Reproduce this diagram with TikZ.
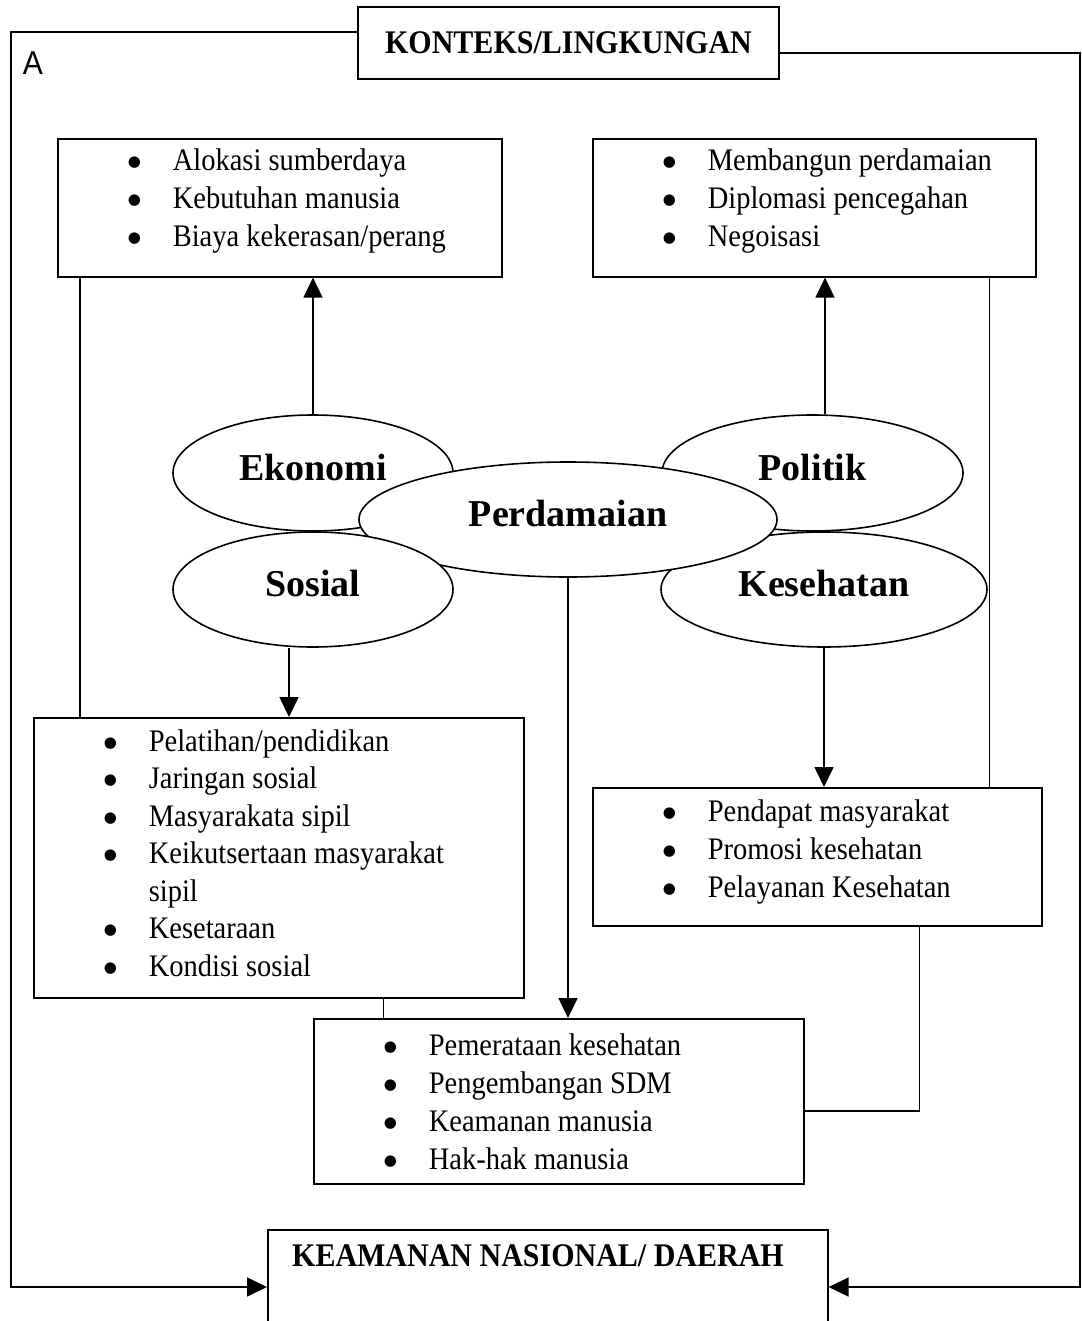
\documentclass[tikz,border=0pt]{standalone}
\usepackage{graphicx}
\usepackage{fontspec}
\setmainfont{Liberation Serif}
\newfontfamily\arialfont{Liberation Sans}
\newfontfamily\dotfont{DejaVu Sans}
\usetikzlibrary{shapes.geometric,arrows.meta}

\newcommand{\tall}[1]{\scalebox{1}[1.1]{#1}}
\newcommand{\bul}[1]{\makebox[45pt][l]{\raisebox{4pt}{\dotfont\fontsize{15}{38}\selectfont ●}}\tall{#1}}

\begin{document}
\begin{tikzpicture}[x=1pt,y=-1pt,line width=1.6pt,
        >={Triangle[length=20pt,width=19pt]},
        itembox/.style={rectangle,draw,anchor=north west,inner sep=0pt},
        items/.style={anchor=west,align=left,inner sep=0pt,font=\fontsize{28.5}{38}\selectfont},
        headbox/.style={rectangle,draw,inner sep=0pt,font=\fontsize{30}{30}\selectfont\bfseries},
        headtext/.style={inner sep=0pt,font=\fontsize{30}{30}\selectfont\bfseries},
        bubble/.style={ellipse,draw,fill=white,inner sep=0pt,text depth=12pt,font=\fontsize{38}{38}\selectfont\bfseries}]
        \useasboundingbox (0,0) rectangle (1081,1321);
        \clip (0,0) rectangle (1081,1321);

        % 标题框
        \node[headbox,minimum width=421pt,minimum height=72pt] (konteks) at (568.5,43) {\tall{KONTEKS/LINGKUNGAN}};
        \node[itembox,minimum width=560pt,minimum height=160pt] (keamanan) at (267,1229) {};
        \node[headtext] (keaTitle) at (538,1256) {\tall{KEAMANAN NASIONAL/ DAERAH}};
        \node[inner sep=0pt,font=\arialfont\fontsize{30}{30}\selectfont] (mark) at (33,63.5) {\tall{A}};

        % 列表框
        \node[itembox,minimum width=444pt,minimum height=138pt] (ekoBox) at (57,138) {};
        \node[itembox,minimum width=443pt,minimum height=138pt] (polBox) at (592,138) {};
        \node[itembox,minimum width=490pt,minimum height=280pt] (sosBox) at (33,717) {};
        \node[itembox,minimum width=449pt,minimum height=138pt] (kesBox) at (592,787) {};
        \node[itembox,minimum width=490pt,minimum height=165pt] (peaceBox) at (313,1018) {};

        % 列表内容
        \node[items] (ekoList) at (127,201) {
            \bul{Alokasi sumberdaya}\\
            \bul{Kebutuhan manusia}\\
            \bul{Biaya kekerasan/perang}
        };
        \node[items] (polList) at (662,201) {
            \bul{Membangun perdamaian}\\
            \bul{Diplomasi pencegahan}\\
            \bul{Negoisasi}
        };
        \node[items,font=\fontsize{28.5}{37.5}\selectfont] (sosList) at (103,853) {
            \bul{Pelatihan/pendidikan}\\
            \bul{Jaringan sosial}\\
            \bul{Masyarakata sipil}\\
            \bul{Keikutsertaan masyarakat}\\
            \hspace*{45pt}\tall{sipil}\\
            \bul{Kesetaraan}\\
            \bul{Kondisi sosial}
        };
        \node[items] (kesList) at (662,851.5) {
            \bul{Pendapat masyarakat}\\
            \bul{Promosi kesehatan}\\
            \bul{Pelayanan Kesehatan}
        };
        \node[items] (peaceList) at (383,1101.5) {
            \bul{Pemerataan kesehatan}\\
            \bul{Pengembangan SDM}\\
            \bul{Keamanan manusia}\\
            \bul{Hak-hak manusia}
        };

        % 椭圆
        \node[bubble,minimum width=280pt,minimum height=116pt] (eko) at (313,473) {Ekonomi};
        \node[bubble,minimum width=301pt,minimum height=116pt] (pol) at (812.5,473) {Politik};
        \node[bubble,minimum width=326pt,minimum height=115pt] (kes) at (824,589.5) {Kesehatan};
        \node[bubble,minimum width=418pt,minimum height=115pt] (perd) at (568,519.5) {Perdamaian};
        \node[bubble,minimum width=280pt,minimum height=115pt] (sos) at (313,589.5) {Sosial};

        % 箭头
        \draw[->] (eko.north) -- (eko.north |- ekoBox.south);
        \draw[->] ([xshift=12.5pt]pol.north) -- ([xshift=12.5pt]pol.north |- polBox.south);
        \draw[->] ([xshift=-24pt]sos.south) -- ([xshift=-24pt]sos.south |- sosBox.north);
        \draw[->] (kes.south) -- (kes.south |- kesBox.north);
        \draw[->] (perd.south) -- (perd.south |- peaceBox.north);

        % 连接线
        \draw ([xshift=23pt]ekoBox.south west) -- ([xshift=23pt]ekoBox.south west |- sosBox.north);
        \draw ([xshift=-47pt]polBox.south east) -- ([xshift=-47pt]polBox.south east |- kesBox.north);
        \draw ([xshift=-141pt]sosBox.south east) -- ([xshift=-141pt]sosBox.south east |- peaceBox.north);
        \draw ([xshift=-123pt]kesBox.south east) |- ([yshift=-9.5pt]peaceBox.east);

        % 外框
        \coordinate (lTop) at (11,32);
        \coordinate (lBot) at (11,1287);
        \coordinate (rTop) at (1080,53);
        \coordinate (rBot) at (1080,1287);
        \draw[->] (lTop -| konteks.west) -- (lTop) -- (lBot) -- (lBot -| keamanan.west);
        \draw[->] (rTop -| konteks.east) -- (rTop) -- (rBot) -- (rBot -| keamanan.east);
    \end{tikzpicture}
\end{document}
